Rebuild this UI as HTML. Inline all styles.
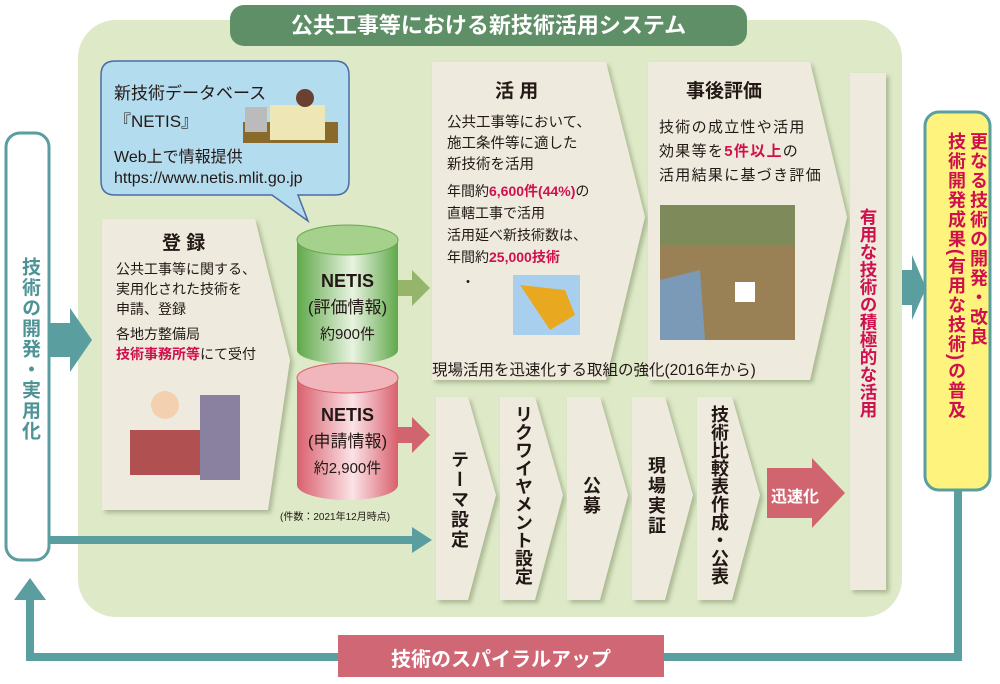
<!DOCTYPE html>
<html><head><meta charset="utf-8"><style>
body{margin:0;width:1000px;height:684px;overflow:hidden;background:#fff;font-family:"Liberation Sans","Noto Sans CJK JP",sans-serif;color:#231815}
.a{position:absolute;white-space:nowrap}
.v{position:absolute;writing-mode:vertical-rl;white-space:nowrap;font-weight:bold}
.r{color:#d0104c;font-weight:bold}
</style></head><body>
<svg width="1000" height="684" style="position:absolute;left:0;top:0">
<defs>
<linearGradient id="g" x1="0" x2="1"><stop offset="0" stop-color="#5fa84a"/><stop offset=".55" stop-color="#e8f3e0"/><stop offset="1" stop-color="#5fa84a"/></linearGradient>
<linearGradient id="p" x1="0" x2="1"><stop offset="0" stop-color="#d9606e"/><stop offset=".55" stop-color="#fbe3e6"/><stop offset="1" stop-color="#d9606e"/></linearGradient>
<filter id="s"><feDropShadow dx="3" dy="3" stdDeviation="2" flood-color="#8a9a70" flood-opacity=".6"/></filter>
</defs>
<rect x="78" y="20" width="824" height="597" rx="38" fill="#dde9c7"/>
<rect x="230" y="5" width="517" height="41" rx="14" fill="#5e8f66"/>
<polyline points="958,490 958,657 30,657 30,595" fill="none" stroke="#5a9ea0" stroke-width="8"/>
<polygon points="14,600 46,600 30,578" fill="#5a9ea0"/>
<rect x="6" y="133" width="43" height="427" rx="14" fill="#fff" stroke="#5a9ea0" stroke-width="3"/>
<polygon points="49,323 70,323 70,308 92,340 70,372 70,357 49,357" fill="#5a9ea0"/>
<polyline points="49,540 418,540" stroke="#5a9ea0" stroke-width="8"/>
<polygon points="412,527 432,540 412,553" fill="#5a9ea0"/>
<polygon points="902,270 912,270 912,255 926,288 912,320 912,305 902,305" fill="#5a9ea0"/>
<rect x="925" y="112" width="65" height="378" rx="14" fill="#fef47d" stroke="#5a9ea0" stroke-width="3"/>
<path d="M115,61 H335 Q349,61 349,75 V181 Q349,195 335,195 H298 L308,221 L272,195 H115 Q101,195 101,181 V75 Q101,61 115,61Z" fill="#b3dcef" stroke="#4b6aa6" stroke-width="1.5"/>
<rect x="243" y="122" width="95" height="21" fill="#8a6a2a"/><rect x="245" y="107" width="22" height="25" fill="#bbb"/><rect x="270" y="105" width="55" height="35" fill="#efe6b5"/><circle cx="305" cy="98" r="9" fill="#6a4030"/>
<g fill="#eeebde" filter="url(#s)">
<polygon points="102,219 255,219 290,360 268,510 102,510"/>
<polygon points="432,62 606,62 645,217 606,380 432,380"/>
<polygon points="648,62 810,62 847,217 810,380 648,380"/>
<rect x="850" y="73" width="36" height="517"/>
<polygon points="436,397 468,397 496,495 468,600 436,600"/>
<polygon points="500,397 535,397 563,495 535,600 500,600"/>
<polygon points="567,397 600,397 628,495 600,600 567,600"/>
<polygon points="632,397 665,397 693,495 665,600 632,600"/>
<polygon points="697,397 732,397 760,495 732,600 697,600"/>
</g>
<polygon points="767,468 812,468 812,458 845,493 812,528 812,518 767,518" fill="#d06570"/>
<rect x="513" y="275" width="67" height="60" fill="#a8d0ee"/><polygon points="520,285 565,290 575,315 550,330 530,300" fill="#e8a820"/>
<rect x="660" y="205" width="135" height="135" fill="#9a8055"/><rect x="660" y="205" width="135" height="40" fill="#7f8a5a"/><rect x="735" y="282" width="20" height="20" fill="#fff"/><polygon points="660,280 700,270 705,340 660,340" fill="#7a9ab8"/>
<rect x="125" y="375" width="125" height="110" fill="#eeebde"/><rect x="130" y="430" width="90" height="45" fill="#b05050"/><circle cx="165" cy="405" r="14" fill="#f2d0b0"/><rect x="200" y="395" width="40" height="85" fill="#8a80a0"/>
<path d="M297,240 V350 A50.5,14 0 0 0 398,350 V240Z" fill="url(#g)"/>
<ellipse cx="347.5" cy="240" rx="50.5" ry="15" fill="#a6d18c" stroke="#6aa84f"/>
<path d="M297,378 V485 A50.5,15 0 0 0 398,485 V378Z" fill="url(#p)"/>
<ellipse cx="347.5" cy="378" rx="50.5" ry="15" fill="#f1b5bc" stroke="#d9606e"/>
<polygon points="398,280 412,280 412,270 430,288 412,306 412,296 398,296" fill="#95b56a"/>
<polygon points="398,427 412,427 412,417 430,435 412,453 412,443 398,443" fill="#d06570"/>
<rect x="338" y="635" width="326" height="42" fill="#cf6775"/>
</svg>
<div class="a" style="left:230px;top:8px;width:517px;text-align:center;color:#fff;font-size:22px;font-weight:bold">公共工事等における新技術活用システム</div>
<div class="a" style="left:114px;top:80px;font-size:17px;line-height:28px">新技術データベース<br>『NETIS』</div>
<div class="a" style="left:114px;top:147px;font-size:16px;line-height:21px">Web上で情報提供<br>https://www.netis.mlit.go.jp</div>
<div class="a" style="left:162px;top:228px;font-size:19px;font-weight:bold">登 録</div>
<div class="a" style="left:116px;top:259px;font-size:14px;line-height:20px">公共工事等に関する、<br>実用化された技術を<br>申請、登録</div>
<div class="a" style="left:116px;top:324px;font-size:14px;line-height:20px">各地方整備局<br><span class="r">技術事務所等</span>にて受付</div>
<div class="a" style="left:297px;top:268px;width:101px;text-align:center;font-size:17px;line-height:26px"><b style="font-size:18px">NETIS</b><br>(評価情報)<br><span style="font-size:15px">約900件</span></div>
<div class="a" style="left:297px;top:402px;width:101px;text-align:center;font-size:17px;line-height:26px"><b style="font-size:18px">NETIS</b><br>(申請情報)<br><span style="font-size:15px">約2,900件</span></div>
<div class="a" style="left:280px;top:508px;font-size:10px">(件数：2021年12月時点)</div>
<div class="a" style="left:495px;top:76px;font-size:19px;font-weight:bold">活 用</div>
<div class="a" style="left:447px;top:113px;font-size:14.5px;line-height:21px">公共工事等において、<br>施工条件等に適した<br>新技術を活用</div>
<div class="a" style="left:447px;top:180px;font-size:14px;line-height:22px">年間約<span class="r">6,600件(44%)</span>の<br>直轄工事で活用<br>活用延べ新技術数は、<br>年間約<span class="r">25,000技術</span></div>
<div class="a" style="left:461px;top:272px;font-size:14px">・</div>
<div class="a" style="left:686px;top:76px;font-size:19px;font-weight:bold">事後評価</div>
<div class="a" style="left:659px;top:116px;font-size:15px;letter-spacing:1.3px;line-height:24px">技術の成立性や活用<br>効果等を<span class="r">5件以上</span>の<br>活用結果に基づき評価</div>
<div class="v r" style="left:857px;top:208px;font-size:17.5px;line-height:22px">有用な技術の積極的な活用</div>
<div class="v" style="left:945px;top:132px;font-size:18px;letter-spacing:1.5px;line-height:22px;color:#d0104c">更なる技術の開発・改良<br>技術開発成果(有用な技術)の普及</div>
<div class="v" style="left:16px;top:257px;font-size:19px;letter-spacing:1.5px;color:#4e9496">技術の開発・実用化</div>
<div class="a" style="left:432px;top:358px;font-size:15.5px">現場活用を迅速化する取組の強化(2016年から)</div>
<div class="v" style="left:446px;top:450px;font-size:18px;letter-spacing:2px">テーマ設定</div>
<div class="v" style="left:510px;top:405px;font-size:18px">リクワイヤメント設定</div>
<div class="v" style="left:578px;top:476px;font-size:18px;letter-spacing:2px">公募</div>
<div class="v" style="left:643px;top:456px;font-size:18px;letter-spacing:2px">現場実証</div>
<div class="v" style="left:706px;top:405px;font-size:18px">技術比較表作成・公表</div>
<div class="a" style="left:771px;top:483px;color:#fff;font-size:16px;font-weight:bold">迅速化</div>
<div class="a" style="left:338px;top:643px;width:326px;text-align:center;color:#fff;font-size:20px;font-weight:bold">技術のスパイラルアップ</div>
</body></html>
